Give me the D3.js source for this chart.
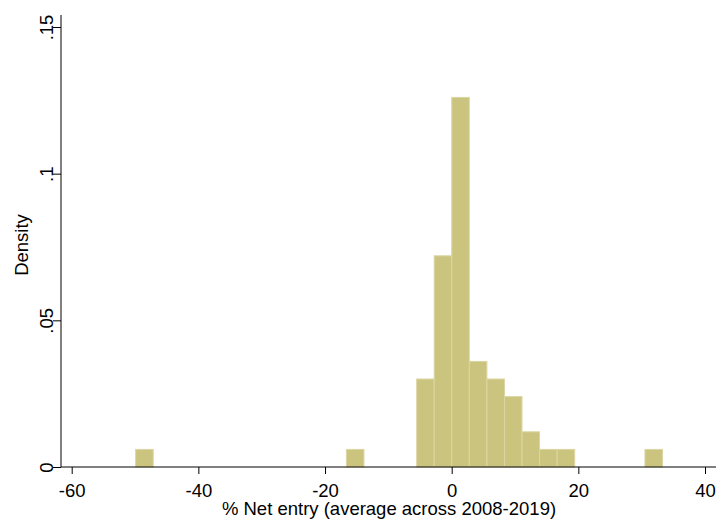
<!DOCTYPE html>
<html>
<head>
<meta charset="utf-8">
<script src="https://cdn.jsdelivr.net/npm/d3@7"></script>
<style>
body { margin: 0; background: #fff; }
svg text { font-family: "Liberation Sans", Arial, sans-serif; fill: #000; }
</style>
</head>
<body>
<div id="chart"></div>
<script>
// histogram bins (start of first bin, bin width) and densities
var binStart = -49.9,
binWidth = 2.773;
var density = [0.006, 0, 0, 0, 0, 0, 0, 0, 0, 0,
	0, 0, 0.006, 0, 0, 0, 0.030, 0.072, 0.126, 0.036,
	0.030, 0.024, 0.012, 0.006, 0.006, 0, 0, 0, 0, 0.006];
var xTicks = [-60, -40, -20, 0, 20, 40],
xTickLabels = ["-60", "-40", "-20", "0", "20", "40"],
yTicks = [0, 0.05, 0.1, 0.15],
yTickLabels = ["0", ".05", ".1", ".15"];

var width = 725, height = 519,
fontSize = 18.5;

var svg = d3.select("#chart").append("svg")
	.attr("width", width)
	.attr("height", height);

var x = d3.scaleLinear().domain([-60, 40]).range([71.7, 705]);
var y = d3.scaleLinear().domain([0, 0.15]).range([467, 27]);

var bins = density.map(function(d, i) {
	return { x0: binStart + i * binWidth, x1: binStart + (i + 1) * binWidth, d: d };
}).filter(function(b) { return b.d > 0; });

svg.append("g").selectAll("rect")
	.data(bins)
	.enter().append("rect")
	.attr("x", function(b) { return x(b.x0); })
	.attr("y", function(b) { return y(b.d); })
	.attr("width", function(b) { return x(b.x1) - x(b.x0); })
	.attr("height", function(b) { return y(0) - y(b.d); })
	.attr("fill", "#cbc47f")
	.attr("stroke", "#dbd6a3")
	.attr("stroke-width", 1);

// axes
var xAxis = d3.axisBottom(x).tickValues(xTicks).tickSize(7).tickPadding(10)
	.tickFormat(function(d, i) { return xTickLabels[i]; });
var yAxis = d3.axisLeft(y).tickValues(yTicks).tickSize(8).tickPadding(5)
	.tickFormat(function(d, i) { return yTickLabels[i]; });

var gx = svg.append("g").attr("transform", "translate(0," + y(0) + ")").call(xAxis);
gx.select(".domain").attr("d", "M61,0H716");
gx.selectAll("line").attr("stroke", "#000");
gx.selectAll("text").attr("font-size", fontSize).attr("font-family", "Liberation Sans, Arial, sans-serif");

var gy = svg.append("g").attr("transform", "translate(61,0)").call(yAxis);
gy.select(".domain").attr("d", "M0,15V467");
gy.selectAll("line").attr("stroke", "#000");
gy.selectAll("text")
	.attr("font-size", fontSize)
	.attr("font-family", "Liberation Sans, Arial, sans-serif")
	.attr("text-anchor", "middle")
	.attr("dy", 0)
	.attr("x", 0)
	.attr("y", 0)
	.attr("transform", "translate(-8.5,0) rotate(-90)");

svg.selectAll(".domain").attr("stroke", "#000");

svg.append("text")
	.attr("x", 389)
	.attr("y", 515)
	.attr("text-anchor", "middle")
	.attr("font-size", fontSize)
	.text("% Net entry (average across 2008-2019)");

svg.append("text")
	.attr("transform", "translate(28,245) rotate(-90)")
	.attr("text-anchor", "middle")
	.attr("font-size", fontSize)
	.text("Density");
</script>
</body>
</html>
